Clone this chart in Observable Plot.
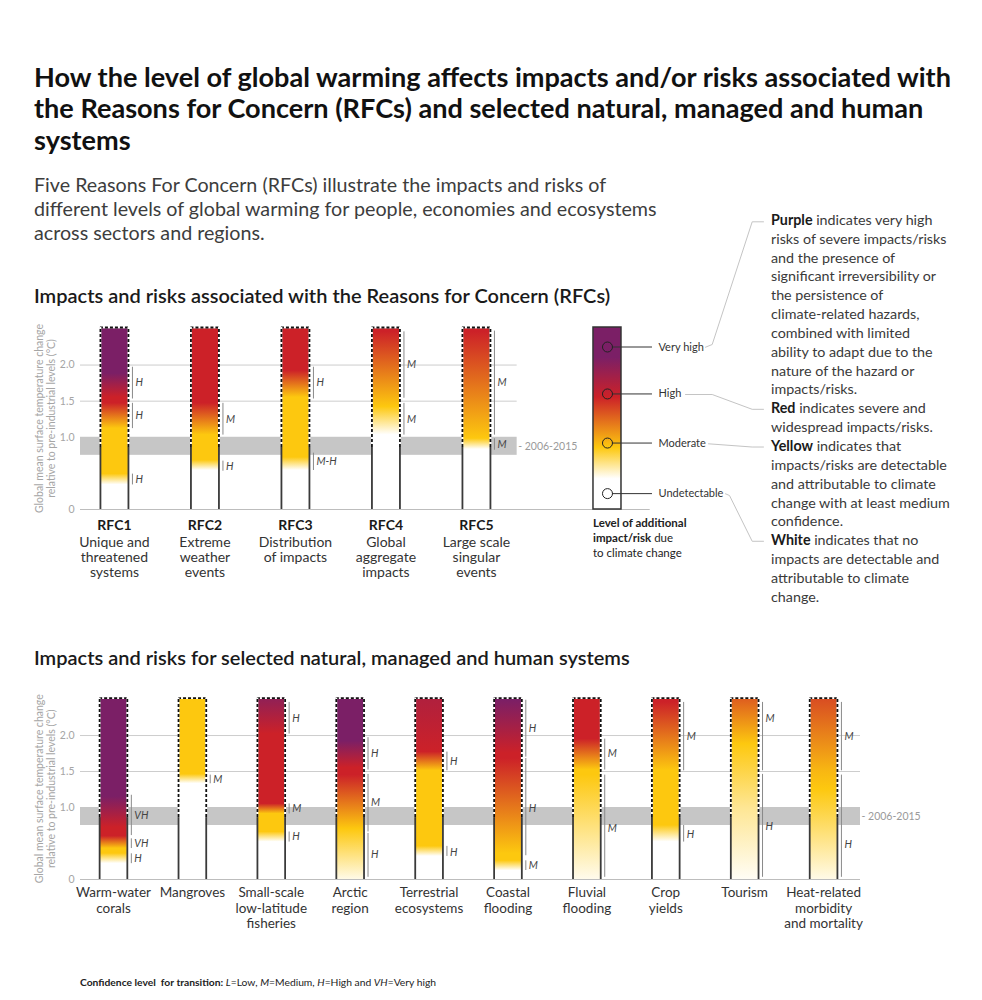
<!DOCTYPE html>
<html><head><meta charset="utf-8">
<script src="https://cdn.jsdelivr.net/npm/d3@7"></script>
<script src="https://cdn.jsdelivr.net/npm/@observablehq/plot@0.6"></script>
<style>
body{margin:0;background:#fff;font-family:Lato,"Noto Sans",sans-serif;}
#page{position:relative;width:982px;height:1000px;overflow:hidden;background:#fff;}
.abs{position:absolute;white-space:nowrap;}
#title{left:34px;top:60.5px;font-size:27.1px;line-height:31.5px;font-weight:700;color:#111;}
#subtitle{left:34px;top:173px;font-size:19.7px;line-height:24px;color:#3d3d3d;}
.head{left:34px;font-size:20px;line-height:24px;font-weight:600;color:#1a1a1a;}
#annot{left:771px;top:210.9px;font-size:14.3px;line-height:18.85px;color:#3a3a3a;}
#annot b{color:#1a1a1a;}
#legcap{left:593px;top:515px;font-size:11.5px;line-height:15px;color:#222;}
#footer{left:80px;top:975px;font-size:10.3px;line-height:14px;color:#222;}
#topchart{position:absolute;left:0;top:200px;}
#lowchart{position:absolute;left:0;top:680px;}
</style></head><body><div id="page">
<div class="abs" id="title">How the level of global warming affects impacts and/or risks associated with<br>the Reasons for Concern (RFCs) and selected natural, managed and human<br>systems</div>
<div class="abs" id="subtitle">Five Reasons For Concern (RFCs) illustrate the impacts and risks of<br>different levels of global warming for people, economies and ecosystems<br>across sectors and regions.</div>
<div class="abs head" style="top:282.5px">Impacts and risks associated with the Reasons for Concern (RFCs)</div>
<div class="abs head" style="top:644.5px">Impacts and risks for selected natural, managed and human systems</div>
<div id="topchart"></div>
<div id="lowchart"></div>
<div class="abs" id="annot"><b>Purple</b> indicates very high<br>risks of severe impacts/risks<br>and the presence of<br>significant irreversibility or<br>the persistence of<br>climate-related hazards,<br>combined with limited<br>ability to adapt due to the<br>nature of the hazard or<br>impacts/risks.<br><b>Red</b> indicates severe and<br>widespread impacts/risks.<br><b>Yellow</b> indicates that<br>impacts/risks are detectable<br>and attributable to climate<br>change with at least medium<br>confidence.<br><b>White</b> indicates that no<br>impacts are detectable and<br>attributable to climate<br>change.</div>
<div class="abs" id="legcap"><b>Level of additional</b><br><b>impact/risk</b> due<br>to climate change</div>
<div class="abs" id="footer"><b>Confidence level&nbsp; for transition:</b> <i>L</i>=Low, <i>M</i>=Medium, <i>H</i>=High and <i>VH</i>=Very high</div>
</div>
<script>
// ---------- DATA ----------
const rfcNames = ["RFC1", "RFC2", "RFC3", "RFC4", "RFC5"];
const rfcDescriptions = ["Unique and\nthreatened\nsystems", "Extreme\nweather\nevents", "Distribution\nof impacts", "Global\naggregate\nimpacts", "Large scale\nsingular\nevents"];
// colour stops per bar: [temperature °C, risk level 0=white 1=yellow 2=red 3=purple]
const rfcStops = [
  [[0.34,0],[0.49,1],[1.12,1],[1.47,2],[1.55,2],[1.88,3]],
  [[0.54,0],[0.68,1],[1.03,1],[1.47,2]],
  [[0.54,0],[0.72,1],[1.55,1],[1.92,2]],
  [[1.03,0],[1.42,1],[2.46,2]],
  [[0.83,0],[0.98,1],[2.46,2]]
];
// confidence brackets per bar: [from °C, to °C, confidence, label at °C]
const rfcConfidence = [
  [[0.34,0.49,"H",0.41],[1.12,1.47,"H",1.30],[1.53,1.97,"H",1.75]],
  [[0.53,0.67,"H",0.60],[1.03,1.47,"M",1.25]],
  [[0.54,0.78,"M-H",0.66],[1.53,1.97,"H",1.75]],
  [[1.03,1.47,"M",1.25],[1.54,2.46,"M",2.00]],
  [[0.82,0.98,"M",0.90],[1.03,2.47,"M",1.75]]
];
const systemNames = ["Warm-water\ncorals", "Mangroves", "Small-scale\nlow-latitude\nfisheries", "Arctic\nregion", "Terrestrial\necosystems", "Coastal\nflooding", "Fluvial\nflooding", "Crop\nyields", "Tourism", "Heat-related\nmorbidity\nand mortality"];
const systemStops = [
  [[0.22,0],[0.36,1],[0.43,1],[0.6,2],[0.72,2],[1.15,3]],
  [[1.33,0],[1.46,1]],
  [[0.52,0],[0.66,1],[0.91,1],[1.05,2],[2.02,2],[2.52,2.75]],
  [[0.0,0.1],[0.7,1],[1.45,2],[1.55,2],[1.92,3]],
  [[0.32,0],[0.46,1],[1.51,1],[1.77,2],[2.52,2.35]],
  [[0.12,0],[0.26,1],[0.36,1],[1.68,2],[1.75,2],[2.49,3]],
  [[0.0,0.08],[1.45,1],[1.52,1],[1.95,2]],
  [[0.52,0],[0.75,1],[1.51,1],[2.46,2]],
  [[0.0,0.04],[1.0,0.45],[1.88,1],[2.52,1.65]],
  [[0.0,0.1],[1.25,1],[1.5,1.1],[2.52,1.75]]
];
const systemConfidence = [
  [[0.22,0.357,"H",0.29],[0.43,0.565,"VH",0.50],[0.61,1.17,"VH",0.89]],
  [[1.33,1.45,"M",1.39]],
  [[0.52,0.66,"H",0.59],[0.91,1.05,"M",0.98],[2.02,2.46,"H",2.24]],
  [[0.03,0.64,"H",0.34],[0.66,1.46,"M",1.07],[1.52,1.97,"H",1.745]],
  [[0.32,0.46,"H",0.38],[1.51,1.77,"H",1.64]],
  [[0.125,0.26,"M",0.19],[0.33,1.68,"H",0.98],[1.70,2.49,"H",2.09]],
  [[0.03,1.45,"M",0.70],[1.52,1.95,"M",1.745]],
  [[0.52,0.75,"H",0.63],[1.51,2.46,"M",1.99]],
  [[0.03,1.46,"H",0.74],[1.51,2.46,"M",2.23]],
  [[0.03,1.45,"H",0.48],[1.51,2.46,"M",1.99]]
];
const levelColors = ["#ffffff", "#fdc80f", "#cc2128", "#7b1f66"];
const legendLabels = ["Very high", "High", "Moderate", "Undetectable"];
const legendMarkers = [2.25, 1.6, 0.92, 0.22];
const legendStops = [[0.42,0],[0.85,1],[1.55,2],[2.1,3]];
const yTicks = [0, 1.0, 1.5, 2.0];
const yTickLabels = ["0", "1.0", "1.5", "2.0"];
const observedBand = [0.75, 1.0];
const observedLabel = "- 2006-2015";
const observedMean = 0.86;
const barTop = 2.52;
const yTitle = "Global mean surface temperature change\nrelative to pre-industrial levels (°C)";
// which annotation line each legend level points to
const legendAnnotLine = [0, 10, 12, 17];

// ---------- HELPERS ----------
const levelInterp = d3.piecewise(d3.interpolateRgb, levelColors);
const levelColor = L => levelInterp(Math.max(0, Math.min(3, L)) / 3);

function addGradient(defs, id, stops) {
  const g = defs.append("linearGradient").attr("id", id)
    .attr("x1", 0).attr("y1", 0).attr("x2", 0).attr("y2", 1);
  stops.slice().sort((a, b) => b[0] - a[0]).forEach(([t, L]) => {
    g.append("stop").attr("offset", Math.max(0, Math.min(1, (barTop - t) / barTop)))
      .attr("stop-color", levelColor(L));
  });
}

function barMarks(n, prefix, hw, conf) {
  const idx = d3.range(n);
  const sides = idx.flatMap(i => [i - hw, i + hw]);
  const confFlat = conf.flatMap((list, i) => list.map(([lo, hi, c, at]) => ({i, lo, hi, c, at})));
  return [
    Plot.rect(idx, {x1: i => i - hw, x2: i => i + hw, y1: 0, y2: barTop, fill: i => `url(#${prefix}${i})`}),
    Plot.ruleY(idx, {x1: i => i - hw, x2: i => i + hw, y: barTop, stroke: "#ffffff", strokeWidth: 1.8}),
    Plot.ruleY(idx, {x1: i => i - hw, x2: i => i + hw, y: barTop, stroke: "#111", strokeWidth: 1.8, strokeDasharray: "3,2"}),
    Plot.ruleX(sides, {x: d => d, y1: observedMean, y2: barTop, stroke: "#ffffff", strokeWidth: 1.8}),
    Plot.ruleX(sides, {x: d => d, y1: observedMean, y2: barTop, stroke: "#111", strokeWidth: 1.8, strokeDasharray: "3,2"}),
    Plot.ruleX(sides, {x: d => d, y1: 0, y2: observedMean, stroke: "#3a3a3a", strokeWidth: 1.8}),
    Plot.ruleX(confFlat, {x: d => d.i + hw, dx: 4, y1: "lo", y2: "hi", stroke: "#8a8a8a", strokeWidth: 1}),
    Plot.text(confFlat, {x: d => d.i + hw, dx: 7, y: "at", text: "c", textAnchor: "start", fontStyle: "italic", fontSize: 10.5, fill: "#444"})
  ];
}

const baseStyle = {fontFamily: "Lato, 'Noto Sans', sans-serif", fontSize: "10px", overflow: "visible", background: "transparent"};

// ---------- TOP CHART ----------
const tX0 = -0.375, tX1 = 6, tPx = 90.5, tHW = 14 / tPx, tBandEnd = 4.45, tBaseEnd = 5.92;
const legendX = 5.448;
const tYpx = 182 / barTop; // px per °C
const pageTop = 200;
const toDX = px => (px - (80 - tX0 * tPx)) / tPx;
const toDY = py => (309 - (py - pageTop)) / tYpx;
// leader lines from legend labels to the explanatory text (page px)
const annotTop = 210.9, annotLH = 18.85;
const annotY = k => annotTop + annotLH * (k + 0.5);
const leaderShapes = [
  [[705, 346.7], [711.7, 344], [751.7, annotY(legendAnnotLine[0]) + 1], [763, annotY(legendAnnotLine[0]) + 1]],
  [[685, 394], [711.7, 394], [751.7, annotY(legendAnnotLine[1])], [763, annotY(legendAnnotLine[1])]],
  [[708, 443.3], [751.7, annotY(legendAnnotLine[2])], [763, annotY(legendAnnotLine[2])]],
  [[725, 493.3], [729, 495], [751.7, annotY(legendAnnotLine[3])], [763, annotY(legendAnnotLine[3])]]
];
const leaderPts = leaderShapes.flatMap((pts, g) => pts.map(([px, py]) => ({g, x: toDX(px), y: toDY(py)})));

const topPlot = Plot.plot({
  width: 982, height: 390,
  marginLeft: 80, marginRight: 982 - (80 + (tX1 - tX0) * tPx), marginTop: 127, marginBottom: 81,
  x: {domain: [tX0, tX1], range: [80, 80 + (tX1 - tX0) * tPx], axis: null},
  y: {domain: [0, barTop], range: [309, 127], axis: null},
  color: {type: "identity"},
  style: baseStyle,
  marks: [
    Plot.rect([observedBand], {x1: tX0, x2: tBandEnd, y1: d => d[0], y2: d => d[1], fill: "#c6c6c6"}),
    Plot.ruleY([1.5, 2.0], {x1: tX0, x2: tBandEnd, stroke: "#cdcdcd", strokeWidth: 1}),
    Plot.ruleY([0], {x1: tX0, x2: tBaseEnd, stroke: "#bdbdbd", strokeWidth: 1}),
    Plot.text([observedLabel], {x: tBandEnd, y: (observedBand[0] + observedBand[1]) / 2, dx: 1, text: d => d, textAnchor: "start", fill: "#9a9a9a", fontSize: 10.5}),
    ...barMarks(rfcNames.length, "rfcg", tHW, rfcConfidence),
    Plot.text(yTicks, {x: tX0, y: d => d, dx: -6, text: (d, i) => yTickLabels[i], textAnchor: "end", fill: "#a5a5a5", fontSize: 10.5}),
    Plot.text([yTitle], {frameAnchor: "left", textAnchor: "middle", dx: -35, rotate: -90, text: d => d, fill: "#a5a5a5", fontSize: 10.5, lineHeight: 1.1}),
    Plot.text(rfcNames, {x: (d, i) => i, y: 0, dy: 16, text: d => d, fontWeight: "bold", fontSize: 14, fill: "#1a1a1a"}),
    Plot.text(rfcDescriptions, {x: (d, i) => i, y: 0, dy: 26.5, text: d => d, lineAnchor: "top", lineHeight: 1.07, fontSize: 14, fill: "#333"}),
    // legend
    Plot.rect([legendX], {x1: d => d - tHW, x2: d => d + tHW, y1: 0, y2: barTop, fill: () => "url(#legg)"}),
    Plot.rect([legendX], {x1: d => d - tHW, x2: d => d + tHW, y1: 0, y2: barTop, fill: "none", stroke: "#333", strokeWidth: 1.5}),
    Plot.ruleY(legendMarkers, {x1: legendX + 5 / tPx, x2: legendX + 45 / tPx, y: d => d, stroke: "#333", strokeWidth: 1}),
    Plot.dot(legendMarkers, {x: legendX, y: d => d, r: 5, stroke: "#222", fill: "none", strokeWidth: 1}),
    Plot.text(legendLabels, {x: legendX + 51 / tPx, y: (d, i) => legendMarkers[i], text: d => d, textAnchor: "start", fontSize: 11, fill: "#333"}),
    Plot.line(leaderPts, {x: "x", y: "y", z: "g", stroke: "#c4c4c4", strokeWidth: 1})
  ]
});
{
  const defs = d3.select(topPlot).insert("defs", ":first-child");
  rfcStops.forEach((s, i) => addGradient(defs, "rfcg" + i, s));
  addGradient(defs, "legg", legendStops);
}
document.getElementById("topchart").appendChild(topPlot);

// ---------- LOWER CHART ----------
const lX0 = -0.418, lX1 = 9.468, lPx = 78.9, lHW = 13.85 / lPx;
const lowPlot = Plot.plot({
  width: 982, height: 260,
  marginLeft: 80, marginRight: 122, marginTop: 17.6, marginBottom: 61,
  x: {domain: [lX0, lX1], range: [80, 860], axis: null},
  y: {domain: [0, barTop], range: [199, 17.6], axis: null},
  color: {type: "identity"},
  style: baseStyle,
  marks: [
    Plot.rect([observedBand], {x1: lX0, x2: lX1, y1: d => d[0], y2: d => d[1], fill: "#c6c6c6"}),
    Plot.ruleY([1.5, 2.0], {x1: lX0, x2: lX1, stroke: "#cdcdcd", strokeWidth: 1}),
    Plot.ruleY([0], {x1: lX0, x2: lX1, stroke: "#bdbdbd", strokeWidth: 1}),
    Plot.text([observedLabel], {x: lX1, y: (observedBand[0] + observedBand[1]) / 2, dx: 1, text: d => d, textAnchor: "start", fill: "#9a9a9a", fontSize: 10.5}),
    ...barMarks(systemNames.length, "sysg", lHW, systemConfidence),
    Plot.text(yTicks, {x: lX0, y: d => d, dx: -6, text: (d, i) => yTickLabels[i], textAnchor: "end", fill: "#a5a5a5", fontSize: 10.5}),
    Plot.text([yTitle], {frameAnchor: "left", textAnchor: "middle", dx: -35, rotate: -90, text: d => d, fill: "#a5a5a5", fontSize: 10.5, lineHeight: 1.1}),
    Plot.text(systemNames, {x: (d, i) => i, y: 0, dy: 6.6, text: d => d, lineAnchor: "top", lineHeight: 1.148, fontSize: 13.5, fill: "#333"})
  ]
});
{
  const defs = d3.select(lowPlot).insert("defs", ":first-child");
  systemStops.forEach((s, i) => addGradient(defs, "sysg" + i, s));
}
document.getElementById("lowchart").appendChild(lowPlot);
</script>
</body></html>
